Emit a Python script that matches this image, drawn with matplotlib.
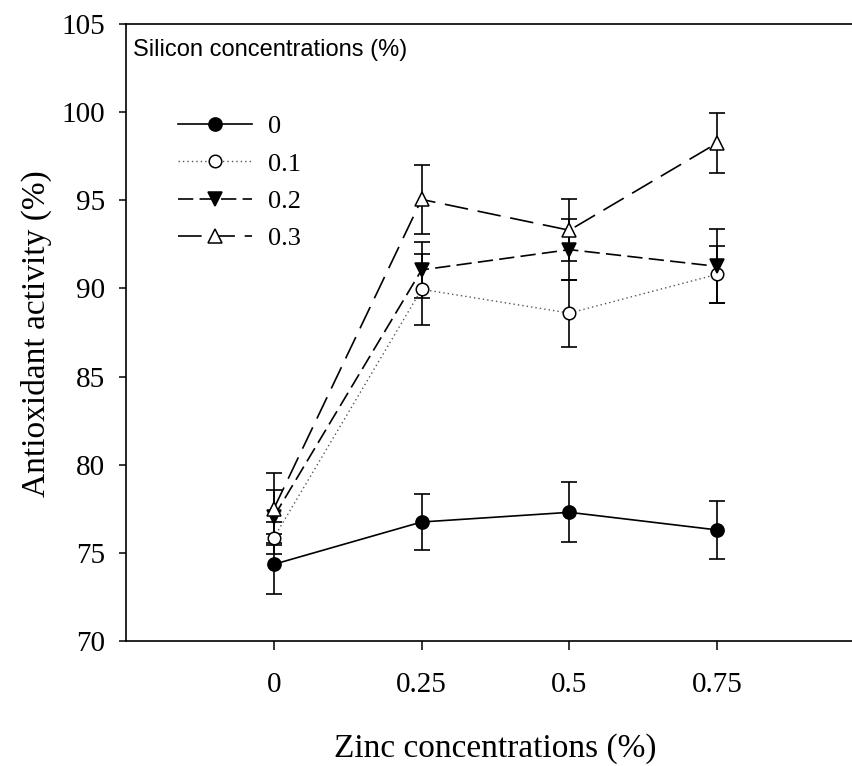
import numpy as np
import matplotlib
matplotlib.use("Agg")
import matplotlib.pyplot as plt

plt.rcParams['lines.scale_dashes'] = False

zinc = [0, 0.25, 0.5, 0.75]
silicon_labels = ["0", "0.1", "0.2", "0.3"]

act_0 = [74.35, 76.75, 77.3, 76.3]
err_0 = [1.7, 1.6, 1.7, 1.65]
act_01 = [75.85, 89.95, 88.6, 90.8]
err_01 = [0.9, 2.0, 1.9, 1.6]
act_02 = [77.05, 91.05, 92.2, 91.25]
err_02 = [1.5, 1.6, 1.75, 2.1]
act_03 = [77.5, 95.05, 93.3, 98.25]
err_03 = [2.05, 1.95, 1.75, 1.7]

yticks = [70, 75, 80, 85, 90, 95, 100, 105]
xticks = [0, 0.25, 0.5, 0.75]
xticklabels = ["0", "0.25", "0.5", "0.75"]

W, H = 853, 766
fig = plt.figure(figsize=(W / 100, H / 100), dpi=100)
# axes runs a bit past the right edge, like the cropped original
ax = fig.add_axes([126 / W, 1 - 641 / H, (865 - 126) / W, (641 - 24) / H])

serif = ['Liberation Serif', 'DejaVu Serif']
narrow = ['Liberation Sans Narrow', 'Liberation Sans', 'DejaVu Sans']

styles = [
    dict(ls='-', marker='o', mfc='black', ms=9.5, lw=1.2),
    dict(ls=(0, (1.0, 2.2)), marker='o', mfc='white', ms=9, lw=1.0, color='#555555'),
    dict(ls=(0, (11, 4.5)), marker='v', mfc='black', ms=9.5, lw=1.2),
    dict(ls=(0, (17, 7)), marker='^', mfc='white', ms=9.5, lw=1.2),
]
series = [(act_0, err_0), (act_01, err_01), (act_02, err_02), (act_03, err_03)]

for (vals, errs), st, lab in zip(series, styles, silicon_labels):
    ax.errorbar(zinc, vals, yerr=errs, fmt='none', ecolor='black',
                elinewidth=1.2, capsize=5.5, capthick=1.2, zorder=2)
    color = st.pop('color', 'black')
    ax.plot(zinc, vals, color=color, mec='black', mew=1.1, label=lab,
            zorder=3, **st)

ax.set_xlim(-0.25, 1.0)
ax.set_ylim(70, 105)
ax.set_xticks(xticks)
ax.set_xticklabels(xticklabels)
ax.set_yticks(yticks)
for lbl in ax.get_xticklabels() + ax.get_yticklabels():
    lbl.set_family(serif)
    lbl.set_fontsize(21)
ax.tick_params(axis='x', direction='out', length=6.5, width=1.1, pad=16)
ax.tick_params(axis='y', direction='out', length=5, width=1.1, pad=10)
for s in ax.spines.values():
    s.set_linewidth(1.2)

fig.text(495 / W, 1 - 757 / H, "Zinc concentrations (%)", family=serif,
         fontsize=24, ha='center', va='baseline')
fig.text(36 / W, 1 - 334 / H, "Antioxidant activity (%)", family=serif,
         fontsize=24, rotation=90, ha='center', va='center')

fig.text(133 / W, 1 - 39 / H, "Silicon concentrations (%)", family=narrow,
         fontsize=17, ha='left', va='top')

leg = ax.legend(loc='upper left', bbox_to_anchor=(178 / W, 1 - 115 / H),
                bbox_transform=fig.transFigure, frameon=False, borderpad=0,
                borderaxespad=0, handlelength=2.8, handletextpad=0.6,
                labelspacing=0.52, prop={'family': serif, 'size': 19})

fig.savefig("out.png", dpi=100)
